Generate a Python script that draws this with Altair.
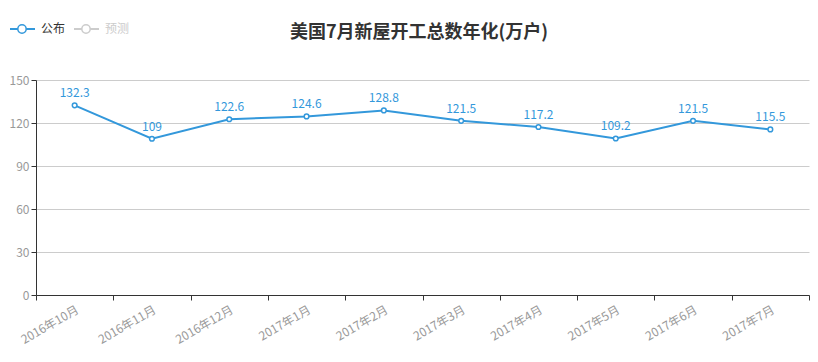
import altair as alt
import pandas as pd

months = ["2016年10月", "2016年11月", "2016年12月", "2017年1月", "2017年2月",
          "2017年3月", "2017年4月", "2017年5月", "2017年6月", "2017年7月"]
published = [132.3, 109, 122.6, 124.6, 128.8, 121.5, 117.2, 109.2, 121.5, 115.5]
y_ticks = [0, 30, 60, 90, 120, 150]
legend_names = ["公布", "预测"]
title_text = ["美国7月新屋开工总数年化(万户)"]

BLUE = "#3398DB"
FONT = "Noto Sans CJK SC"

df = pd.DataFrame({"month": months, "value": published})

x = alt.X("month:N", sort=months, title=None,
          scale=alt.Scale(paddingInner=0, paddingOuter=0),
          axis=alt.Axis(labelAngle=-30, labelAlign="right", labelBaseline="top",
                        labelColor="#999", labelFontSize=12, labelFont=FONT,
                        tickBand="extent", domainColor="#333", tickColor="#333",
                        tickSize=5, labelPadding=4, grid=False))
y = alt.Y("value:Q", title=None,
          scale=alt.Scale(domain=[0, 150], nice=False),
          axis=alt.Axis(values=y_ticks, labelColor="#999", labelFontSize=12,
                        labelFont=FONT, domainColor="#333", tickColor="#333",
                        tickSize=5, gridColor="#ccc", labelPadding=2))

base = alt.Chart(df)
line = base.mark_line(color=BLUE, strokeWidth=2).encode(x=x, y=y)
pts = base.mark_point(shape="circle", filled=True, fill="white", stroke=BLUE,
                      strokeWidth=1.5, size=22, opacity=1).encode(x=x, y=y)
labels = base.mark_text(color=BLUE, fontSize=12, font=FONT, baseline="bottom",
                        dy=-5).encode(x=x, y=y, text=alt.Text("value:Q"))

# title as text mark
tdf = pd.DataFrame({"t": title_text})
title = alt.Chart(tdf).mark_text(font=FONT, fontSize=18, fontWeight="bold",
                                 color="#333", align="center",
                                 baseline="middle").encode(
    x=alt.value(383), y=alt.value(-47), text="t:N")

# legend (manual, ECharts style)
leg = pd.DataFrame({"name": legend_names})
leg_parts = []
for i, (name, col, tcol) in enumerate([(legend_names[0], BLUE, "#333"),
                                       (legend_names[1], "#ccc", "#ccc")]):
    x0 = -26 + i * 64
    d = alt.Chart(leg[leg["name"] == name])
    leg_parts.append(d.mark_rule(color=col, strokeWidth=2).encode(
        x=alt.value(x0), x2=alt.value(x0 + 25), y=alt.value(-51)))
    leg_parts.append(d.mark_point(shape="circle", filled=True, fill="white",
                                  stroke=col, strokeWidth=1.5, size=70,
                                  opacity=1).encode(
        x=alt.value(x0 + 12), y=alt.value(-51)))
    leg_parts.append(d.mark_text(color=tcol, fontSize=12, font=FONT,
                                 align="left", baseline="middle").encode(
        x=alt.value(x0 + 31), y=alt.value(-51), text="name:N"))

chart = alt.layer(line, pts, labels, title, *leg_parts).properties(
    width=773, height=215,
    padding={"left": 28, "top": 72, "right": 1, "bottom": 58},
    autosize=alt.AutoSizeParams(type="none"),
).configure_view(stroke=None).configure_axis(labelFont=FONT)

chart.save("out.html", embed_options={"renderer": "svg", "actions": False})
